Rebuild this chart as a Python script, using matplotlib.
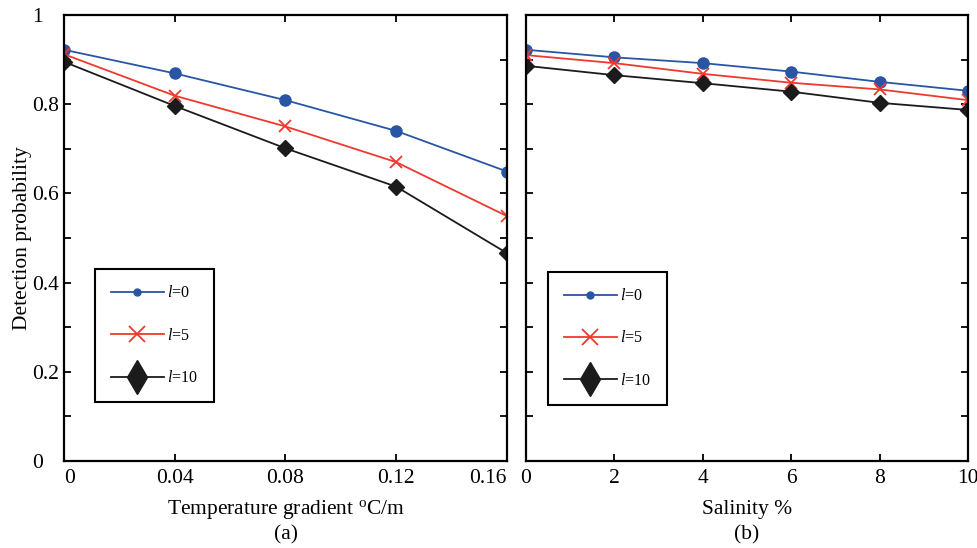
import matplotlib
matplotlib.use("Agg")
import matplotlib.pyplot as plt
from matplotlib.ticker import MultipleLocator

plt.rcParams['font.family'] = ['Liberation Serif', 'DejaVu Serif']
plt.rcParams['mathtext.fontset'] = 'custom'
plt.rcParams['mathtext.rm'] = 'Liberation Serif'
plt.rcParams['mathtext.it'] = 'Liberation Serif:italic'

# (a) temperature gradient
grad = [0, 0.04, 0.08, 0.12, 0.16]
grad_l0 = [0.922, 0.869, 0.809, 0.740, 0.649]
grad_l5 = [0.912, 0.819, 0.750, 0.670, 0.549]
grad_l10 = [0.895, 0.796, 0.701, 0.615, 0.466]

# (b) salinity
sal = [0, 2, 4, 6, 8, 10]
sal_l0 = [0.922, 0.905, 0.892, 0.873, 0.850, 0.830]
sal_l5 = [0.910, 0.892, 0.868, 0.848, 0.833, 0.809]
sal_l10 = [0.886, 0.865, 0.847, 0.828, 0.803, 0.787]

labels = ['$l$=0', '$l$=5', '$l$=10']
colors = ['#2955a5', '#f0392e', '#1b1b1b']
fs = 15.5

fig = plt.figure(figsize=(9.77, 5.48), dpi=100)
ax1 = fig.add_axes([0.0655, 0.1588, 0.4534, 0.8139])
ax2 = fig.add_axes([0.5384, 0.1588, 0.4524, 0.8139])


def draw(ax, x, ys, xticks, leg_xy):
    ax.plot(x, ys[0], color=colors[0], lw=1.3, marker='o', ms=8, label=labels[0])
    ax.plot(x, ys[1], color=colors[1], lw=1.3, marker='x', ms=9, mew=1.3, label=labels[1])
    ax.plot(x, ys[2], color=colors[2], lw=1.3, marker='D', ms=8.5, label=labels[2])
    ax.set_xlim(x[0], x[-1])
    ax.set_ylim(0, 1)
    ax.set_xticks(xticks)
    ax.yaxis.set_major_locator(MultipleLocator(0.2))
    ax.yaxis.set_minor_locator(MultipleLocator(0.1))
    ax.tick_params(which='both', direction='in', top=True, right=True,
                   length=5, width=1.3, labelsize=fs)
    ax.tick_params(axis='x', pad=6)
    for s in ax.spines.values():
        s.set_linewidth(1.6)
    leg = ax.legend(loc='lower left', bbox_to_anchor=leg_xy, borderaxespad=0,
                    fancybox=False, framealpha=1, edgecolor='black',
                    fontsize=11.5, handlelength=3.3, labelspacing=1.65,
                    borderpad=1.0, handletextpad=0.2)
    leg.get_frame().set_linewidth(1.5)
    hs = leg.legend_handles
    hs[0].set_markersize(5)
    hs[1].set_markersize(11)
    hs[2].set_marker('d')
    hs[2].set_markersize(17)
    return leg


draw(ax1, grad, [grad_l0, grad_l5, grad_l10], grad, (0.07, 0.132))
draw(ax2, sal, [sal_l0, sal_l5, sal_l10], sal, (0.05, 0.126))

ax1.set_xticklabels(['0', '0.04', '0.08', '0.12', '0.16'])
ax1.get_xticklabels()[0].set_ha('left')
ax1.get_xticklabels()[-1].set_ha('right')
ax1.set_yticks([0, 0.2, 0.4, 0.6, 0.8, 1.0])
ax1.set_yticklabels(['0', '0.2', '0.4', '0.6', '0.8', '1'])
ax1.tick_params(axis='y', pad=23)
for lab in ax1.get_yticklabels():
    lab.set_ha('left')
ax1.set_ylabel('Detection probability', fontsize=fs)
ax1.yaxis.set_label_coords(-0.072, 0.5)

ax2.set_yticklabels([])

fig.text(0.2925, 0.071, 'Temperature gradient $^{\\mathrm{o}}$C/m', fontsize=fs,
         ha='center', va='center')
fig.text(0.2925, 0.024, '(a)', fontsize=fs, ha='center', va='center')
fig.text(0.7646, 0.071, 'Salinity %', fontsize=fs, ha='center', va='center')
fig.text(0.7646, 0.024, '(b)', fontsize=fs, ha='center', va='center')

fig.savefig('out.png', dpi=100)
